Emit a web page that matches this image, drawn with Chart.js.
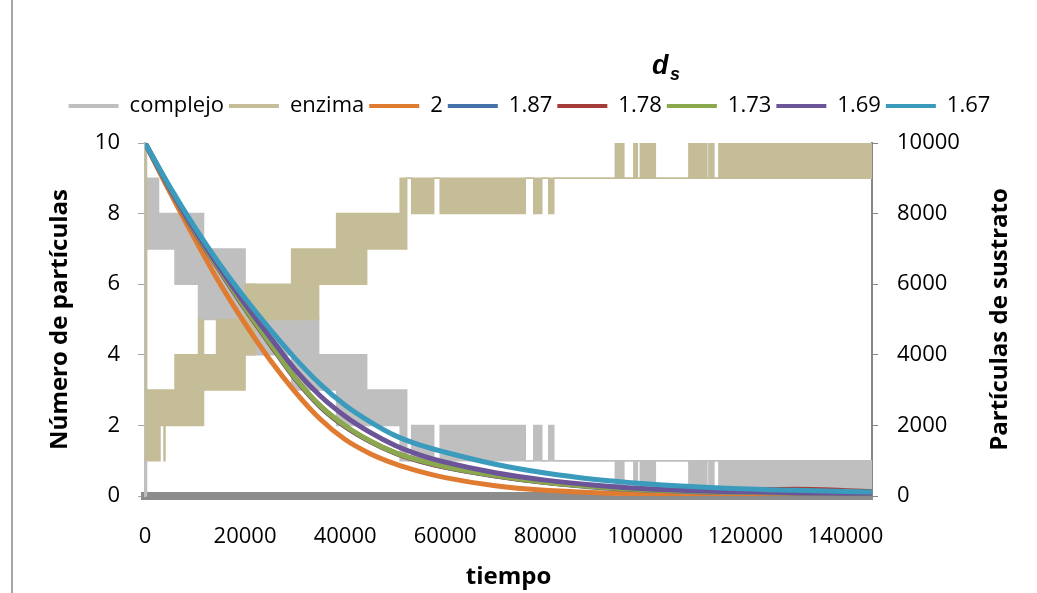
<!DOCTYPE html>
<html>
<head>
<meta charset="utf-8">
<script src="https://cdn.jsdelivr.net/npm/chart.js"></script>
<style>
  body { margin: 0; background: #fff; }
  #wrap { position: relative; width: 1037px; height: 593px; }
  #edge { position: absolute; left: 11px; top: 0; width: 2px; height: 593px; background: #a6a6a6; z-index: 1; }
</style>
</head>
<body>
<div id="wrap"><div id="edge"></div><canvas id="substrateChart"></canvas></div>
<script>
// tiempo axis end (last simulated step)
const tEnd = 145300;

// substrate curves
const tiempo = [0, 5000, 10000, 15000, 20000, 25000, 30000, 35000, 40000, 45000, 50000, 55000, 60000, 70000, 80000, 90000, 100000, 115000, 130000, 145300];
const ds200 = [10000, 8600, 7270, 6010, 4880, 3850, 2950, 2180, 1600, 1200, 910, 690, 520, 290, 160, 95, 60, 40, 30, 20];
const ds187 = [10000, 8690, 7460, 6370, 5300, 4300, 3320, 2530, 1960, 1540, 1210, 980, 810, 565, 380, 250, 170, 110, 85, 65];
const ds178 = [10000, 8695, 7470, 6385, 5315, 4315, 3335, 2545, 1975, 1550, 1220, 990, 820, 575, 390, 265, 185, 160, 190, 120];
const ds173 = [10000, 8700, 7480, 6400, 5330, 4330, 3350, 2560, 1990, 1560, 1230, 1000, 830, 580, 390, 260, 175, 115, 90, 70];
const ds169 = [10000, 8720, 7520, 6450, 5440, 4500, 3580, 2840, 2260, 1800, 1430, 1160, 960, 660, 450, 305, 205, 130, 95, 75];
const ds167 = [10000, 8750, 7600, 6550, 5600, 4720, 3900, 3170, 2570, 2100, 1710, 1440, 1240, 900, 650, 470, 350, 230, 160, 110];

// complejo / enzima: noisy integer counts, kept as bands (low..high) that start at bandT
const bandT =      [0, 300, 2700, 3000, 3800, 4000, 6000, 10700, 11700, 14300, 20000, 22000, 29300, 34700, 38300, 44300, 51000, 52300, 53300, 57700, 59000, 76000, 77700, 79300, 80700, 81700, 94000, 95700, 97700, 98400, 99000, 102000, 108700, 112300, 112700, 113700, 114700];
const complejoLo = [0, 7, 7, 7, 7, 7, 6, 5, 5, 5, 4, 4, 3, 3, 2, 2, 1, 1, 1, 1, 1, 1, 1, 1, 1, 1, 0, 1, 0, 1, 0, 1, 0, 1, 0, 1, 0];
const complejoHi = [9, 9, 8, 8, 8, 8, 8, 8, 7, 7, 6, 5, 5, 4, 4, 3, 3, 1, 2, 1, 2, 1, 2, 1, 2, 1, 1, 1, 1, 1, 1, 1, 1, 1, 1, 1, 1];
const enzimaLo =   [1, 1, 1, 2, 1, 2, 2, 2, 3, 3, 4, 5, 5, 6, 6, 7, 7, 9, 8, 9, 8, 9, 8, 9, 8, 9, 9, 9, 9, 9, 9, 9, 9, 9, 9, 9, 9];
const enzimaHi =   [10, 3, 3, 3, 3, 3, 4, 5, 4, 5, 6, 6, 7, 7, 8, 8, 9, 9, 9, 9, 9, 9, 9, 9, 9, 9, 10, 9, 10, 9, 10, 9, 10, 9, 10, 9, 10];

const xTicks = [0, 20000, 40000, 60000, 80000, 100000, 120000, 140000];

function toPoints(xs, ys) {
    return xs.map((x, i) => ({ x: x, y: ys[i] }));
}

function bandPoints(vals) {
    const pts = toPoints(bandT, vals);
    pts.push({ x: tEnd, y: vals[vals.length - 1] });
    return pts;
}

function curve(label, values, color, order) {
    return {
        label: label,
        data: toPoints(tiempo, values),
        yAxisID: 'y2',
        borderColor: color,
        backgroundColor: color,
        borderWidth: 5,
        pointRadius: 0,
        cubicInterpolationMode: 'monotone',
        fill: false,
        order: order
    };
}

function band(label, values, color, fill, order) {
    return {
        label: label,
        data: bandPoints(values),
        yAxisID: 'y',
        borderColor: color,
        backgroundColor: color,
        borderWidth: 1.5,
        pointRadius: 0,
        stepped: true,
        fill: fill,
        order: order
    };
}

// extra gap between the legend row and the plot
const legendGap = {
    id: 'legendGap',
    beforeLayout(chart) {
        const legend = chart.legend;
        if (legend && !legend.gapAdded) {
            const fit = legend.fit;
            legend.fit = function () { fit.call(this); this.height += 16; };
            legend.gapAdded = true;
        }
    }
};

// d_s heading and right axis title (reads bottom to top)
const extraText = {
    id: 'extraText',
    afterDraw(chart) {
        const { ctx, chartArea } = chart;
        ctx.save();
        ctx.fillStyle = '#000';
        ctx.textAlign = 'left';
        ctx.textBaseline = 'alphabetic';
        ctx.font = 'italic bold 27px "Liberation Sans"';
        ctx.fillText('d', 652, 74);
        ctx.font = 'italic bold 18px "Liberation Sans"';
        ctx.fillText('s', 670, 80);

        ctx.font = 'bold 24px "Open Sans"';
        ctx.translate(chartArea.right + 128, (chartArea.top + chartArea.bottom) / 2);
        ctx.rotate(-Math.PI / 2);
        ctx.textAlign = 'center';
        ctx.textBaseline = 'middle';
        ctx.fillText('Partículas de sustrato', 0, 0);
        ctx.restore();
    }
};

Chart.defaults.font.family = '"Open Sans", sans-serif';
Chart.defaults.color = '#000';

const ctx = document.getElementById('substrateChart').getContext('2d');

const chart = new Chart(ctx, {
    type: 'line',
    data: {
        datasets: [
            band('complejo', complejoHi, '#bfbfbf', '+1', 8),
            band('', complejoLo, '#bfbfbf', false, 8),
            band('enzima', enzimaHi, '#c4bd97', '+1', 7),
            band('', enzimaLo, '#c4bd97', false, 7),
            curve('2', ds200, '#e07b32', 6),
            curve('1.87', ds187, '#4472a8', 5),
            curve('1.78', ds178, '#a63c3a', 4),
            curve('1.73', ds173, '#8aa84e', 3),
            curve('1.69', ds169, '#6b5497', 2),
            curve('1.67', ds167, '#3a9bbd', 1)
        ]
    },
    options: {
        responsive: true,
        maintainAspectRatio: false,
        animation: false,
        devicePixelRatio: 1,
        layout: {
            padding: { top: 90, left: 22, right: 0, bottom: 0 }
        },
        plugins: {
            legend: {
                position: 'top',
                align: 'center',
                labels: {
                    boxWidth: 50,
                    boxHeight: 4,
                    padding: 5,
                    color: '#000',
                    font: { size: 22 },
                    filter: item => item.text !== '',
                    sort: (a, b) => a.datasetIndex - b.datasetIndex,
                    generateLabels: function (chart) {
                        const items = Chart.defaults.plugins.legend.labels.generateLabels(chart);
                        items.forEach(item => {
                            item.fillStyle = item.strokeStyle;
                            item.lineWidth = 0;
                        });
                        return items;
                    }
                }
            },
            title: { display: false },
            tooltip: { enabled: false }
        },
        scales: {
            x: {
                type: 'linear',
                min: 0,
                max: tEnd,
                afterBuildTicks: scale => {
                    scale.ticks = xTicks.map(v => ({ value: v }));
                },
                ticks: {
                    padding: 20,
                    font: { size: 22 },
                    callback: value => String(value)
                },
                grid: { display: false },
                border: { display: true, color: '#8c8c8c', width: 8 },
                title: {
                    display: true,
                    text: 'tiempo',
                    font: { size: 24, weight: 'bold' },
                    padding: { top: 0, bottom: 1 }
                },
                afterFit: scale => { scale.height = 97; }
            },
            y: {
                position: 'left',
                min: 0,
                max: 10,
                ticks: { stepSize: 2, padding: 18, font: { size: 22 } },
                grid: { display: true, drawOnChartArea: false, drawTicks: true, tickLength: 7, color: '#a6a6a6' },
                border: { display: true, color: '#bfbfbf', width: 2.5 },
                title: {
                    display: true,
                    text: 'Número de partículas',
                    font: { size: 24, weight: 'bold' },
                    padding: { top: 24, bottom: 0 }
                },
                afterFit: scale => { scale.width = 123; }
            },
            y2: {
                position: 'right',
                min: 0,
                max: 10000,
                ticks: {
                    stepSize: 2000,
                    padding: 19,
                    font: { size: 22 },
                    callback: value => String(value)
                },
                grid: { display: true, drawOnChartArea: false, drawTicks: true, tickLength: 6, color: '#868686' },
                border: { display: true, color: '#868686', width: 2 },
                afterFit: scale => { scale.width = 165; }
            }
        }
    },
    plugins: [legendGap, extraText]
});
</script>
</body>
</html>
